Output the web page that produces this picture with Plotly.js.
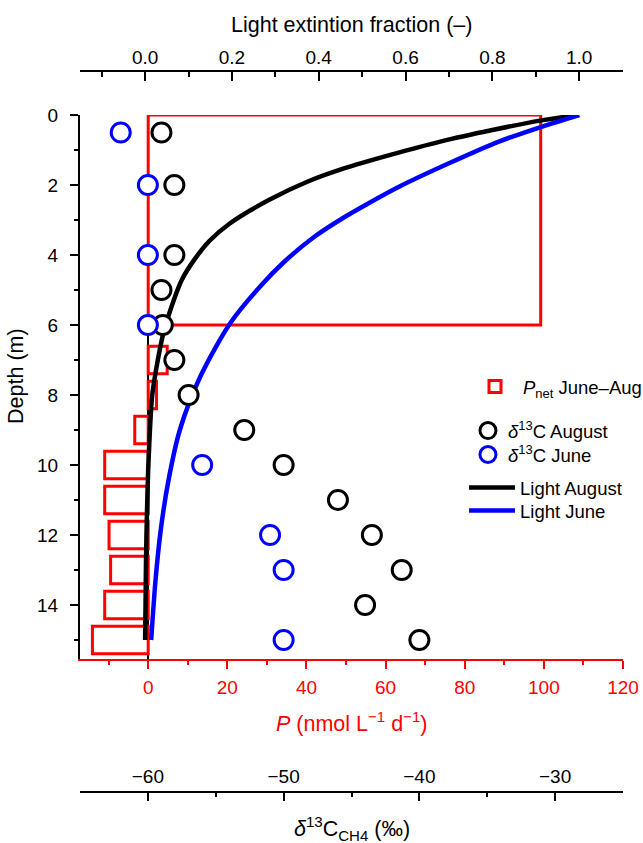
<!DOCTYPE html>
<html>
<head>
<meta charset="utf-8">
<script src="https://cdn.plot.ly/plotly-3.0.1.min.js"></script>
<style>html,body{margin:0;padding:0;background:#fff;overflow:hidden;}#chart{width:643px;height:843px;}</style>
</head>
<body>
<div id="chart"></div>
<script>
// ---- Data ----
// Net production P (nmol L-1 d-1) by depth bin
const pDepth = [3, 7, 8, 9, 10, 11, 12, 13, 14, 15];
const pBinWidth = [6, 0.78, 0.78, 0.78, 0.78, 0.78, 0.78, 0.78, 0.78, 0.78];
const pValue = [99.2, 4.8, 2.1, -3.4, -11.0, -11.0, -9.9, -9.5, -11.0, -14.1];

// delta13C-CH4 (permil)
const d13AugDepth = [0.5, 2, 4, 5, 6, 7, 8, 9, 10, 11, 12, 13, 14, 15];
const d13AugValue = [-59.0, -58.05, -58.05, -59.0, -58.9, -58.05, -57.0, -52.9, -50.0, -46.0, -43.5, -41.3, -44.0, -40.0];
const d13JunDepth = [0.5, 2, 4, 6, 10, 12, 13, 15];
const d13JunValue = [-62.0, -60.0, -60.0, -60.0, -56.0, -51.0, -50.0, -50.0];

// Light extinction fraction
const lightAugDepth = [0, 0.16, 0.43, 0.76, 1.14, 1.52, 1.9, 2.43, 3.1, 3.6, 4.14, 4.7, 5.29, 6.24, 7.37, 8.05, 9.95, 11.5, 12.8, 14.0, 15.0];
const lightAugFrac  = [1.0, 0.91, 0.80, 0.68, 0.565, 0.46, 0.375, 0.285, 0.195, 0.148, 0.113, 0.085, 0.066, 0.042, 0.024, 0.016, 0.0077, 0.004, 0.002, 0.001, 0.0];
const lightJunDepth = [0, 0.33, 0.76, 1.38, 2.05, 2.52, 2.95, 3.48, 4.2, 4.9, 5.95, 7.48, 9.0, 10.43, 11.86, 13.29, 15.0];
const lightJunFrac  = [1.0, 0.915, 0.815, 0.70, 0.585, 0.515, 0.455, 0.39, 0.32, 0.265, 0.196, 0.127, 0.08, 0.054, 0.036, 0.024, 0.014];

const FONT = 'Liberation Sans, Arial, Helvetica, sans-serif';
const RED = '#ff0000', BLUE = '#0000ff', BLACK = '#000000';

const traces = [
  {
    type: 'bar', orientation: 'h', x: pValue, y: pDepth, width: pBinWidth,
    xaxis: 'x', yaxis: 'y', name: '<i>P</i><sub>net</sub> June–Aug',
    marker: {color: 'rgba(0,0,0,0)', line: {color: RED, width: 3}},
    legend: 'legend', hoverinfo: 'skip'
  },
  {
    type: 'scatter', mode: 'markers', x: d13AugValue, y: d13AugDepth,
    xaxis: 'x3', yaxis: 'y', name: '<i>δ</i><sup>13</sup>C August',
    marker: {symbol: 'circle', size: 19, color: '#ffffff', line: {color: BLACK, width: 3}},
    legend: 'legend2'
  },
  {
    type: 'scatter', mode: 'markers', x: d13JunValue, y: d13JunDepth,
    xaxis: 'x3', yaxis: 'y', name: '<i>δ</i><sup>13</sup>C June',
    marker: {symbol: 'circle', size: 19, color: '#ffffff', line: {color: BLUE, width: 3}},
    legend: 'legend3'
  },
  {
    type: 'scatter', mode: 'lines', x: lightAugFrac, y: lightAugDepth,
    xaxis: 'x2', yaxis: 'y', name: 'Light August',
    line: {color: BLACK, width: 4.5, shape: 'spline', smoothing: 0.8},
    legend: 'legend4'
  },
  {
    type: 'scatter', mode: 'lines', x: lightJunFrac, y: lightJunDepth,
    xaxis: 'x2', yaxis: 'y', name: 'Light June',
    line: {color: BLUE, width: 4.5, shape: 'spline', smoothing: 0.8},
    legend: 'legend5'
  }
];

const tickFont = {family: FONT, size: 19, color: BLACK};
const legFont = {family: FONT, size: 18.5, color: BLACK};
function leg(x, y, w) {
  return {x: x, y: y, xanchor: 'left', yanchor: 'top', bgcolor: 'rgba(0,0,0,0)',
          borderwidth: 0, font: legFont, itemwidth: w};
}

const layout = {
  width: 643, height: 843,
  margin: {l: 80, r: 20, t: 71, b: 51, pad: 0, autoexpand: false},
  paper_bgcolor: '#ffffff', plot_bgcolor: 'rgba(0,0,0,0)',
  font: {family: FONT, size: 18, color: BLACK},
  showlegend: true,
  bargap: 0,
  xaxis: {
    range: [-17.24, 120], anchor: 'y', side: 'bottom', automargin: false,
    showline: true, linecolor: RED, linewidth: 2,
    ticks: 'outside', ticklen: 8, tickwidth: 2, tickcolor: RED,
    tick0: 0, dtick: 20,
    minor: {dtick: 10, ticks: 'outside', ticklen: 4, tickwidth: 2, tickcolor: RED, showgrid: false},
    tickfont: {family: FONT, size: 19, color: RED},
    ticklabelstandoff: 2,
    showgrid: false, zeroline: true, zerolinecolor: BLACK, zerolinewidth: 1.5
  },
  xaxis2: {
    range: [-0.15, 1.101], overlaying: 'x', anchor: 'free', position: 1, side: 'top', automargin: false,
    showline: true, linecolor: BLACK, linewidth: 2,
    ticks: 'inside', ticklen: 9, tickwidth: 2, tickcolor: BLACK,
    tick0: 0, dtick: 0.2, tickformat: '.1f',
    minor: {dtick: 0.1, ticks: 'inside', ticklen: 5, tickwidth: 2, tickcolor: BLACK, showgrid: false},
    tickfont: tickFont, ticklabelstandoff: -2,
    showgrid: false, zeroline: false
  },
  xaxis3: {
    range: [-65, -25], overlaying: 'x', anchor: 'free', position: 0, side: 'top', automargin: false,
    showline: true, linecolor: BLACK, linewidth: 2,
    ticks: 'inside', ticklen: 8, tickwidth: 2, tickcolor: BLACK,
    tick0: -60, dtick: 10,
    minor: {dtick: 5, ticks: 'inside', ticklen: 4, tickwidth: 2, tickcolor: BLACK, showgrid: false},
    tickfont: tickFont, ticklabelstandoff: 0,
    showgrid: false, zeroline: false
  },
  yaxis: {
    range: [15.543, 0], domain: [0.18447, 0.93897], anchor: 'x', automargin: false,
    showline: true, linecolor: BLACK, linewidth: 2,
    ticks: 'outside', ticklen: 8, tickwidth: 2, tickcolor: BLACK,
    tick0: 0, dtick: 2,
    minor: {dtick: 1, ticks: 'outside', ticklen: 4, tickwidth: 2, tickcolor: BLACK, showgrid: false},
    tickfont: tickFont, ticklabelstandoff: 8,
    showgrid: false, zeroline: false
  },
  legend:  leg(0.7127, 0.5881, 46),
  legend2: leg(0.7145, 0.5270, 30),
  legend3: leg(0.7145, 0.4938, 30),
  legend4: leg(0.7072, 0.4480, 46),
  legend5: leg(0.7072, 0.4161, 46),
  annotations: [
    {text: 'Light extintion fraction (–)', xref: 'paper', yref: 'paper', x: 0.5, y: 1.064,
     xanchor: 'center', yanchor: 'middle', showarrow: false, font: {family: FONT, size: 21.5, color: BLACK}},
    {text: '<i>P</i> (nmol L<sup>−1</sup> d<sup>−1</sup>)', xref: 'paper', yref: 'paper', x: 0.5, y: 0.0975,
     xanchor: 'center', yanchor: 'middle', showarrow: false, font: {family: FONT, size: 21.5, color: RED}},
    {text: '<i>δ</i><sup>13</sup>C<sub>CH4</sub> (‰)', xref: 'paper', yref: 'paper', x: 0.5, y: -0.05,
     xanchor: 'center', yanchor: 'middle', showarrow: false, font: {family: FONT, size: 21.5, color: BLACK}},
    {text: 'Depth (m)', xref: 'paper', yref: 'paper', x: -0.118, y: 0.577, textangle: -90,
     xanchor: 'center', yanchor: 'middle', showarrow: false, font: {family: FONT, size: 21.5, color: BLACK}}
  ]
};

Plotly.newPlot('chart', traces, layout, {displayModeBar: false, staticPlot: true});
</script>
</body>
</html>
